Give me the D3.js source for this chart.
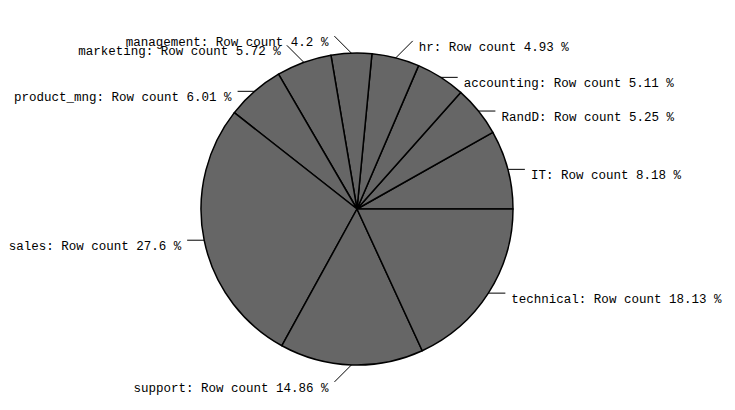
<!DOCTYPE html>
<html><head><meta charset="utf-8">
<script src="https://cdn.jsdelivr.net/npm/d3@7"></script>
<style>html,body{margin:0;padding:0;background:#fff;}</style>
</head><body>
<svg id="c" width="735" height="410"></svg>
<script>
const categories = ["IT","RandD","accounting","hr","management","marketing","product_mng","sales","support","technical"];
const values = [8.18,5.25,5.11,4.93,4.2,5.72,6.01,27.6,14.86,18.13];
const labels = ["IT: Row count 8.18 %","RandD: Row count 5.25 %","accounting: Row count 5.11 %","hr: Row count 4.93 %","management: Row count 4.2 %","marketing: Row count 5.72 %","product_mng: Row count 6.01 %","sales: Row count 27.6 %","support: Row count 14.86 %","technical: Row count 18.13 %"];

const svg = d3.select("#c");
const cx = 357, cy = 209, r = 156;
const g = svg.append("g").attr("transform", `translate(${cx},${cy})`);
const data = categories.map((c,i)=>({c, v: values[i], label: labels[i]}));
const pie = d3.pie().value(d=>d.v).sort(null).startAngle(Math.PI/2).endAngle(Math.PI/2 - 2*Math.PI);
const arcs = pie(data);
const arc = d3.arc().innerRadius(0).outerRadius(r);

g.selectAll("path.s").data(arcs).join("path")
  .attr("class","s")
  .attr("d", arc)
  .attr("fill","#666666")
  .attr("stroke","#000")
  .attr("stroke-width",1.5)
  .attr("stroke-linejoin","round");

const L = 17;
arcs.forEach(a => {
  const m = (a.startAngle + a.endAngle)/2;
  const x0 = r*Math.sin(m), y0 = -r*Math.cos(m);
  const sx = Math.sign(x0) || 1;
  const diag = Math.abs(x0)/r < 0.45;
  const x1 = x0 + sx*L;
  const y1 = diag ? y0 + Math.sign(y0)*L : y0;
  g.append("line").attr("x1",x0).attr("y1",y0).attr("x2",x1).attr("y2",y1)
    .attr("stroke","#000").attr("stroke-width",1);
  g.append("text")
    .attr("x", x1 + sx*6)
    .attr("y", y1 + 10)
    .attr("text-anchor", sx>0 ? "start" : "end")
    .attr("font-family","'Liberation Mono', monospace")
    .attr("font-size","12.5px")
    .attr("fill","#000")
    .text(a.data.label);
});
</script>
</body></html>
